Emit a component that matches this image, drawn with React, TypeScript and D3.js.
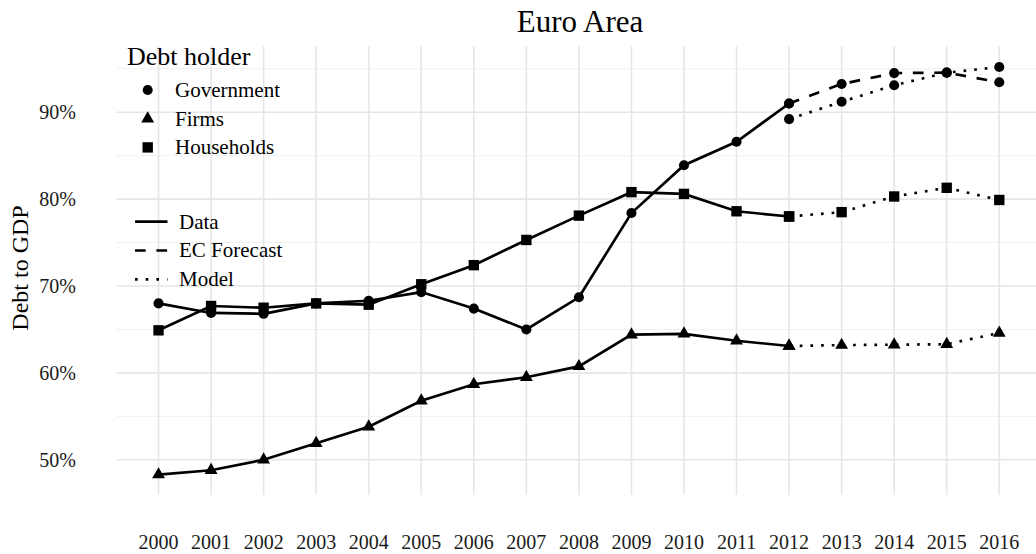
import React from "react";
import * as d3 from "d3";

const dataYears = [2000, 2001, 2002, 2003, 2004, 2005, 2006, 2007, 2008, 2009, 2010, 2011, 2012];
const forecastYears = [2012, 2013, 2014, 2015, 2016];
const tickYears = [2000, 2001, 2002, 2003, 2004, 2005, 2006, 2007, 2008, 2009, 2010, 2011, 2012, 2013, 2014, 2015, 2016];

const govData = [68.0, 66.9, 66.8, 68.0, 68.3, 69.3, 67.4, 65.0, 68.7, 78.4, 83.9, 86.6, 91.0];
const govEC = [91.0, 93.25, 94.5, 94.55, 93.45];
const govModel = [89.2, 91.2, 93.1, 94.55, 95.2];

const firmsData = [48.3, 48.8, 50.0, 51.9, 53.8, 56.8, 58.7, 59.5, 60.75, 64.4, 64.5, 63.7, 63.1];
const firmsModel = [63.1, 63.2, 63.25, 63.3, 64.6];

const hhData = [64.9, 67.7, 67.5, 68.0, 67.85, 70.2, 72.4, 75.3, 78.1, 80.8, 80.6, 78.6, 78.0];
const hhModel = [78.0, 78.5, 80.3, 81.3, 79.9];

const majorY = [50, 60, 70, 80, 90];
const minorY = [55, 65, 75, 85, 95];

const shapeLegend = ["Government", "Firms", "Households"];
const lineLegend = ["Data", "EC Forecast", "Model"];

const FONT = "'Liberation Serif', 'Times New Roman', serif";
const LW = 2.67;
const DASH = "10.7,10.7";
const DOT = "2.67,8";

export default function App() {
  const W = 1036;
  const H = 554;
  const x = d3.scaleLinear().domain([1999.2, 2016.8]).range([116.5, 1041.3]);
  const y = d3.scaleLinear().domain([45.95, 97.55]).range([495, 46.6]);
  const line = d3
    .line<[number, number]>()
    .x((d) => x(d[0]))
    .y((d) => y(d[1]));
  const zip = (xs: number[], vs: number[]) => xs.map((v, i) => [v, vs[i]] as [number, number]);

  const circle = d3.symbol().type(d3.symbolCircle).size(80)()!;
  const square = d3.symbol().type(d3.symbolSquare).size(108)()!;
  const triangle = d3.symbol().type(d3.symbolTriangle).size(72)()!;
  const shapes = [circle, triangle, square];

  const series = [
    { xs: dataYears, vs: govData, dash: undefined, shape: circle },
    { xs: forecastYears, vs: govEC, dash: DASH, shape: circle },
    { xs: forecastYears, vs: govModel, dash: DOT, shape: circle },
    { xs: dataYears, vs: firmsData, dash: undefined, shape: triangle },
    { xs: forecastYears, vs: firmsModel, dash: DOT, shape: triangle },
    { xs: dataYears, vs: hhData, dash: undefined, shape: square },
    { xs: forecastYears, vs: hhModel, dash: DOT, shape: square },
  ];

  const [px0, px1] = x.range();
  const [py0, py1] = y.range();

  return (
    <svg width={W} height={H} style={{ display: "block", position: "absolute", left: 0, top: 0 }} fontFamily={FONT}>
      <rect width={W} height={H} fill="#fff" />
      <g>
        {minorY.map((v) => (
          <line key={"mi" + v} x1={px0} x2={px1} y1={y(v)} y2={y(v)} stroke="#f0f0f0" strokeWidth={1} />
        ))}
        {majorY.map((v) => (
          <line key={"ma" + v} x1={px0} x2={px1} y1={y(v)} y2={y(v)} stroke="#e6e6e6" strokeWidth={1.6} />
        ))}
        {tickYears.map((t) => (
          <line key={"vx" + t} x1={x(t)} x2={x(t)} y1={py1} y2={py0} stroke="#e6e6e6" strokeWidth={1.6} />
        ))}
      </g>
      <g>
        {series.map((s, i) => (
          <path
            key={"l" + i}
            d={line(zip(s.xs, s.vs))!}
            fill="none"
            stroke="#000"
            strokeWidth={LW}
            strokeDasharray={s.dash}
            strokeLinecap="butt"
          />
        ))}
        {series.map((s, i) =>
          s.xs.map((t, j) => (
            <path key={"p" + i + "-" + j} d={s.shape} transform={`translate(${x(t)},${y(s.vs[j])})`} fill="#000" />
          ))
        )}
      </g>
      <g fontSize={20} fill="#1a1a1a">
        {majorY.map((v) => (
          <text key={"yt" + v} x={76} y={y(v) + 7} textAnchor="end">
            {v}%
          </text>
        ))}
        {tickYears.map((t) => (
          <text key={"xt" + t} x={x(t)} y={549} textAnchor="middle">
            {t}
          </text>
        ))}
      </g>
      <text x={20} y={268} fontSize={24} textAnchor="middle" transform="rotate(-90,20,268)" dy={8}>
        Debt to GDP
      </text>
      <text x={580} y={32} fontSize={31} textAnchor="middle">
        Euro Area
      </text>
      <g>
        <text x={127} y={65} fontSize={26}>
          Debt holder
        </text>
        {shapeLegend.map((lab, i) => (
          <g key={"sl" + i}>
            <path d={shapes[i]} transform={`translate(147.7,${90 + i * 28.7})`} fill="#000" />
            <text x={175} y={97 + i * 28.7} fontSize={21}>
              {lab}
            </text>
          </g>
        ))}
        {lineLegend.map((lab, i) => (
          <g key={"ll" + i}>
            <line
              x1={135}
              x2={167.5}
              y1={221.7 + i * 28.8}
              y2={221.7 + i * 28.8}
              stroke="#000"
              strokeWidth={LW}
              strokeDasharray={i === 0 ? undefined : i === 1 ? DASH : DOT}
            />
            <text x={179} y={228.5 + i * 28.8} fontSize={21}>
              {lab}
            </text>
          </g>
        ))}
      </g>
    </svg>
  );
}
